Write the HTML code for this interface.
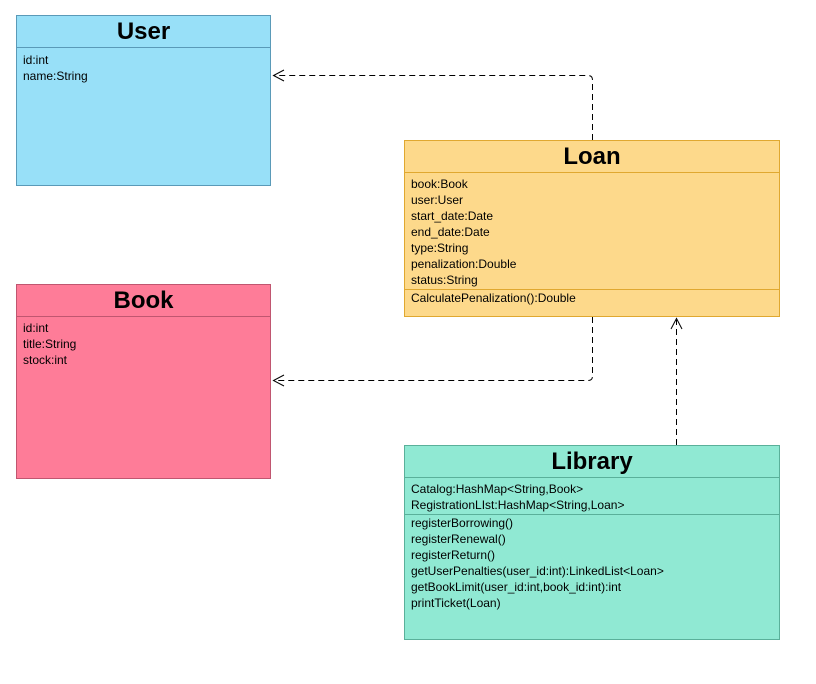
<!DOCTYPE html>
<html><head><style>
body{margin:0;width:816px;height:684px;background:#fff;position:relative;font-family:"Liberation Sans",Arial,sans-serif;overflow:hidden}
.b{position:absolute;box-sizing:border-box;border:1px solid}
.t{position:absolute;left:0;right:0;text-align:center;font-weight:bold;font-size:24px;line-height:32px;top:0}
.l{position:absolute;left:0;right:0;height:0;border-top:1px solid}
.r{position:absolute;left:6px;font-size:12px;line-height:16px;color:#000;white-space:pre}
</style></head><body>
<div class="b" style="left:16px;top:15px;width:255px;height:171px;background:#98e0f8;border-color:#5a9ab8">
<div class="t">User</div><div class="l" style="top:31px;border-color:#5a9ab8"></div>
<div class="r" style="top:36px">id:int
name:String</div></div>

<div class="b" style="left:16px;top:284px;width:255px;height:195px;background:#fe7c98;border-color:#c05670">
<div class="t">Book</div><div class="l" style="top:31px;border-color:#c05670"></div>
<div class="r" style="top:35px">id:int
title:String
stock:int</div></div>

<div class="b" style="left:404px;top:140px;width:376px;height:177px;background:#fdd98b;border-color:#e0a830">
<div class="t">Loan</div><div class="l" style="top:31px;border-color:#e0a830"></div>
<div class="r" style="top:35px">book:Book
user:User
start_date:Date
end_date:Date
type:String
penalization:Double
status:String</div>
<div class="l" style="top:148px;border-color:#e0a830"></div>
<div class="r" style="top:149px">CalculatePenalization():Double</div></div>

<div class="b" style="left:404px;top:445px;width:376px;height:195px;background:#90e9d3;border-color:#5ab09a">
<div class="t">Library</div><div class="l" style="top:31px;border-color:#5ab09a"></div>
<div class="r" style="top:35px">Catalog:HashMap&lt;String,Book&gt;
RegistrationLIst:HashMap&lt;String,Loan&gt;</div>
<div class="l" style="top:68px;border-color:#5ab09a"></div>
<div class="r" style="top:69px">registerBorrowing()
registerRenewal()
registerReturn()
getUserPenalties(user_id:int):LinkedList&lt;Loan&gt;
getBookLimit(user_id:int,book_id:int):int
printTicket(Loan)</div></div>

<svg width="816" height="684" style="position:absolute;left:0;top:0" fill="none" stroke="#000" stroke-width="1">
<path d="M592.5 140 V80 Q592.5 75.5 588 75.5 H274" stroke-dasharray="6 4"/>
<path d="M284 70 L273.5 75.5 L284 81"/>
<path d="M592.5 317 V376 Q592.5 380.5 588 380.5 H274" stroke-dasharray="6 4"/>
<path d="M284 375 L273.5 380.5 L284 386"/>
<path d="M676.5 445 V320" stroke-dasharray="6 4"/>
<path d="M671 329 L676.5 318.5 L682 329"/>
</svg>
</body></html>
